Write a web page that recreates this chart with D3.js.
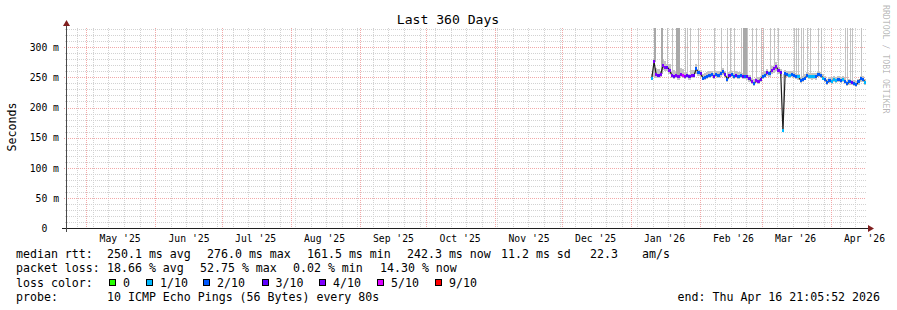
<!DOCTYPE html>
<html>
<head>
<meta charset="utf-8">
<script src="https://cdn.jsdelivr.net/npm/d3@7"></script>
<style>
  body { margin: 0; background: #fff; }
  svg { display: block; font-family: 'DejaVu Sans Mono', monospace; }
  text { white-space: pre; }
</style>
</head>
<body>
<svg id="chart" width="897" height="310"></svg>
<script>
const endTime = new Date(Date.UTC(2026, 3, 16, 21, 5, 52));
const spanDays = 360;
const firstSample = new Date(Date.UTC(2026, 0, 10, 12));

// one sample per day, Jan 10 .. Apr 16 2026 (ms)
const median = [
  249.0, 276.0, 254.0, 253.0, 255.6, 269.0, 266.0, 267.0, 262.0, 253.5,
  251.8, 253.4, 250.7, 254.5, 253.4, 251.8, 253.4, 250.7, 253.4, 253.4,
  264.5, 257.8, 256.0, 249.0, 250.1, 252.3, 253.4, 254.5, 252.3, 255.0,
  253.4, 256.0, 260.0, 254.5, 246.8, 253.4, 254.5, 252.3, 253.4, 252.3,
  253.4, 252.3, 251.8, 250.7, 247.9, 243.5, 239.6, 244.5, 243.5, 246.8,
  252.3, 253.4, 257.8, 256.0, 261.8, 264.5, 267.3, 261.8, 257.8, 161.5,
  256.0, 254.5, 253.4, 254.5, 253.4, 252.3, 250.7, 245.2, 246.8, 249.0,
  253.4, 252.3, 250.7, 252.3, 250.7, 254.5, 253.4, 249.0, 246.8, 241.2,
  245.2, 243.5, 246.8, 245.2, 246.8, 245.2, 246.8, 243.5, 239.6, 242.4,
  241.2, 239.6, 237.9, 242.4, 247.9, 246.8, 242.3
];
// index into lossLabels
const lossLevel = [
  1, 4, 4, 3, 4, 4, 4, 3, 4, 4,
  3, 4, 4, 4, 5, 4, 3, 3, 4, 3,
  2, 2, 3, 2, 2, 2, 2, 2, 3, 2,
  2, 2, 2, 3, 2, 3, 2, 2, 3, 2,
  2, 3, 2, 3, 3, 4, 2, 4, 4, 3,
  2, 2, 3, 2, 4, 4, 4, 4, 3, 1,
  2, 2, 1, 2, 2, 2, 1, 2, 2, 2,
  2, 1, 1, 1, 2, 2, 2, 1, 2, 2,
  2, 1, 1, 1, 2, 2, 1, 2, 2, 2,
  3, 2, 2, 2, 2, 2, 1
];
// lowest and highest ping of each sample (999 = off the top)
const smokeLo = [
  245, 250, 249, 249, 251, 262, 260, 261, 256, 249,
  248, 249, 246, 250, 249, 248, 249, 246, 249, 249,
  256, 252, 251, 245, 246, 248, 249, 250, 248, 251,
  249, 251, 254, 250, 243, 249, 250, 248, 249, 248,
  249, 248, 247, 246, 243, 239, 235, 240, 239, 242,
  247, 249, 253, 251, 256, 258, 261, 256, 252, 160,
  251, 250, 249, 250, 249, 248, 246, 241, 242, 245,
  249, 248, 246, 248, 246, 250, 249, 245, 242, 237,
  241, 239, 242, 241, 242, 241, 242, 239, 235, 238,
  237, 235, 234, 238, 243, 242, 238
];
const smokeHi = [
  255, 999, 266, 264, 999, 280, 277, 999, 273, 999,
  262, 999, 999, 265, 264, 999, 999, 999, 263, 263,
  272, 999, 263, 256, 257, 259, 260, 261, 999, 261,
  260, 999, 266, 261, 999, 999, 261, 999, 260, 259,
  999, 999, 999, 999, 254, 999, 247, 999, 251, 999,
  999, 260, 264, 999, 269, 999, 275, 999, 264, 256,
  262, 261, 260, 261, 999, 999, 999, 999, 999, 255,
  999, 999, 257, 258, 257, 999, 999, 255, 253, 248,
  251, 250, 253, 251, 253, 251, 253, 999, 999, 999,
  999, 246, 244, 248, 999, 253, 248
];
const darkSpikes = ['2026-01-11', '2026-01-14', '2026-01-21', '2026-01-22', '2026-02-20', '2026-02-21'];

const yTicks = [0, 50, 100, 150, 200, 250, 300];
const lossLabels = ['0', '1/10', '2/10', '3/10', '4/10', '5/10', '9/10'];
const lossColors = ['#26ff00', '#00b8ff', '#0059ff', '#5e00ff', '#7e00ff', '#dd00ff', '#ff0000'];
const rttStats = ['250.1 ms avg', '276.0 ms max', '161.5 ms min', '242.3 ms now', '11.2 ms sd', '22.3', 'am/s'];
const lossStats = ['18.66 % avg', '52.75 % max', '0.02 % min', '14.30 % now'];
const probeText = '10 ICMP Echo Pings (56 Bytes) every 80s';

const svg = d3.select('#chart');
const X0 = 66, X1 = 866, Y0 = 228, Y1 = 28;
const start = d3.utcDay.offset(endTime, -spanDays);
const x = d3.scaleUtc().domain([start, endTime]).range([X0, X1]);
const y = d3.scaleLinear().domain([0, 332]).range([Y0, Y1]);
const px = t => Math.round(x(t)) + 0.5;
const py = v => Math.round(y(v)) + 0.5;

const fmtDay = d3.utcFormat('%Y-%m-%d');
const days = median.map((m, i) => {
  const t = d3.utcDay.offset(firstSample, i);
  return { t, median: m, loss: lossLevel[i], lo: smokeLo[i], hi: smokeHi[i], dark: darkSpikes.includes(fmtDay(t)) };
});
const step = x(days[1].t) - x(days[0].t);

svg.append('rect').attr('width', 897).attr('height', 310).attr('fill', '#fff');

// grid
const grid = svg.append('g').attr('shape-rendering', 'crispEdges').attr('stroke-dasharray', '1,1');
const minorGrid = '#d2d2d2', majorGrid = '#f2a8a8';
const months = d3.utcMonth.range(d3.utcMonth.ceil(start), endTime);
const weeks = d3.utcSunday.range(start, endTime).filter(t => !months.some(m => Math.abs(m - t) < 864e5));

grid.selectAll('.hmin').data(d3.range(10, 331, 10).filter(v => v % 50)).join('line')
  .attr('x1', X0 - 1).attr('x2', X1).attr('y1', py).attr('y2', py).attr('stroke', minorGrid);
grid.selectAll('.vmin').data(weeks).join('line')
  .attr('x1', px).attr('x2', px).attr('y1', Y1).attr('y2', Y0).attr('stroke', minorGrid);
grid.selectAll('.hmaj').data(yTicks.filter(v => v > 0)).join('line')
  .attr('x1', X0 - 2).attr('x2', X1).attr('y1', py).attr('y2', py).attr('stroke', majorGrid);
grid.selectAll('.vmaj').data(months).join('line')
  .attr('x1', px).attr('x2', px).attr('y1', Y1).attr('y2', Y0).attr('stroke', majorGrid);

// smoke
svg.append('clipPath').attr('id', 'plot').append('rect')
  .attr('x', X0).attr('y', Y1).attr('width', X1 - X0).attr('height', Y0 - Y1);
const plot = svg.append('g').attr('clip-path', 'url(#plot)').attr('shape-rendering', 'crispEdges');
const isSpike = d => d.hi - d.median > 30;
const bandTop = d => isSpike(d) ? d.median + 5 : d.hi;

plot.selectAll('.band').data(days).join('rect')
  .attr('x', d => x(d.t) - step / 2).attr('width', step)
  .attr('y', d => y(bandTop(d)))
  .attr('height', d => y(d.lo) - y(bandTop(d)))
  .attr('fill', '#c4c4c4');
plot.selectAll('.spike').data(days.filter(isSpike)).join('rect')
  .attr('x', d => Math.round(x(d.t))).attr('width', d => d.dark ? 2 : 1)
  .attr('y', d => y(d.hi)).attr('height', d => y(d.median) - y(d.hi))
  .attr('fill', d => d.dark ? '#a8a8a8' : '#c2c2c2');

// median line and loss colour
plot.append('path').datum(days)
  .attr('d', d3.line().x(d => x(d.t)).y(d => y(d.median)))
  .attr('fill', 'none').attr('stroke', '#1e1e1e').attr('stroke-width', 1.2)
  .attr('shape-rendering', 'auto');
plot.selectAll('.med').data(days).join('rect')
  .attr('x', d => x(d.t) - step / 2).attr('width', step)
  .attr('y', d => y(d.median) - 1.5).attr('height', 3)
  .attr('fill', d => lossColors[d.loss]);

// axes
const axis = svg.append('g').attr('shape-rendering', 'crispEdges');
axis.append('line').attr('x1', X0 - 4).attr('x2', X1 + 2).attr('y1', Y0 + 0.5).attr('y2', Y0 + 0.5).attr('stroke', '#1f1f1f');
axis.append('line').attr('x1', X0 + 0.5).attr('x2', X0 + 0.5).attr('y1', Y0 + 4).attr('y2', Y1 - 4).attr('stroke', '#4a4a4a');
svg.append('path').attr('d', `M${X0 - 3},${Y1 - 2}L${X0 + 4},${Y1 - 2}L${X0 + 0.5},${Y1 - 8}Z`).attr('fill', '#801f1f');
svg.append('path').attr('d', `M${X1 + 2},${Y0 - 3}L${X1 + 2},${Y0 + 4}L${X1 + 8},${Y0 + 0.5}Z`).attr('fill', '#801f1f');

const yAxis = svg.append('g').attr('transform', `translate(${X0},0)`)
  .call(d3.axisLeft(y).tickValues(yTicks).tickSize(0).tickPadding(7)
    .tickFormat(d => d === 0 ? '0\u00a0\u00a0' : d + ' m'));
yAxis.select('.domain').remove();
yAxis.selectAll('text').attr('font-family', 'DejaVu Sans Mono').attr('font-size', 9.75)
  .attr('fill', '#000').attr('dy', null).attr('y', 3.3);

const monthLabels = months.map(m => d3.utcDay.offset(m, 15));
const xAxis = svg.append('g').attr('transform', `translate(0,${Y0})`)
  .call(d3.axisBottom(x).tickValues(monthLabels).tickSize(0).tickFormat(d3.utcFormat("%b '%y")));
xAxis.select('.domain').remove();
xAxis.selectAll('text').attr('font-family', 'DejaVu Sans Mono').attr('font-size', 9.75)
  .attr('fill', '#000').attr('dy', null).attr('y', 13.5);

// titles
svg.append('text').attr('x', 448).attr('y', 23.5).attr('text-anchor', 'middle')
  .attr('font-size', 13.1).text('Last 360 Days');
svg.append('text').attr('transform', 'translate(15.5,127) rotate(-90)').attr('text-anchor', 'middle')
  .attr('font-size', 11.6).text('Seconds');
svg.append('text').attr('transform', 'translate(883,5) rotate(90)')
  .attr('font-size', 8.2).attr('fill', 'rgba(0,0,0,0.3)').text('RRDTOOL / TOBI OETIKER');

// legend
const legend = svg.append('g').attr('font-size', 11.6).attr('fill', '#000');
const put = (xp, yp, s, anchor) => legend.append('text').attr('x', xp).attr('y', yp)
  .attr('text-anchor', anchor || 'start').text(s);

put(16, 258.3, 'median rtt:');
[107, 207, 307, 407, 501, 590, 642].forEach((xp, i) => put(xp, 258.3, rttStats[i]));
put(16, 272.3, 'packet loss:');
[107, 200, 293, 380].forEach((xp, i) => put(xp, 272.3, lossStats[i]));
put(16, 286.5, 'loss color:');
[109, 146, 203, 261.5, 319, 377, 435].forEach((xp, i) => {
  legend.append('rect').attr('x', xp + 0.5).attr('y', 279.5).attr('width', 6).attr('height', 6)
    .attr('fill', lossColors[i]).attr('stroke', '#000').attr('shape-rendering', 'crispEdges');
  put(xp + 14, 286.5, lossLabels[i]);
});
put(16, 300.7, 'probe:');
put(107, 300.7, probeText);
put(880, 300.7, 'end: ' + d3.utcFormat('%a %b %d %H:%M:%S %Y')(endTime), 'end');
</script>
</body>
</html>
